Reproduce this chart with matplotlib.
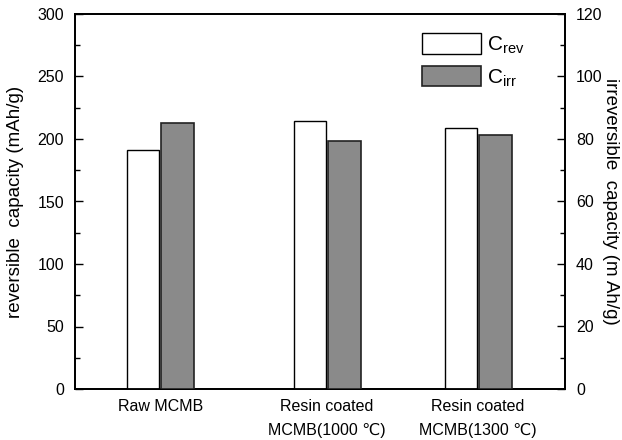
import matplotlib
matplotlib.use("Agg")
import matplotlib.pyplot as plt
from matplotlib.patches import Patch
from matplotlib.ticker import MultipleLocator

plt.rcParams['font.family'] = ['Liberation Sans', 'DejaVu Sans']

categories = ["Raw MCMB", "Resin coated\nMCMB(1000 \u2103)", "Resin coated\nMCMB(1300 \u2103)"]
positions = [0.0, 1.0, 1.905]
c_rev = [191, 214.5, 208.5]      # left axis, mAh/g
c_irr = [85.0, 79.2, 81.3]       # right axis, mAh/g

fig = plt.figure(figsize=(6.22, 4.40), dpi=100)
ax = fig.add_axes([75/622, 51/440, 490/622, 375/440])
ax2 = ax.twinx()

w = 0.195
gap = 0.006
ax.bar([p - w/2 - gap for p in positions], c_rev, width=w, color='white',
       edgecolor='black', linewidth=1.0, zorder=3)
ax2.bar([p + w/2 + gap for p in positions], c_irr, width=w, color='#8a8a8a',
        edgecolor='#222222', linewidth=1.2, zorder=3)

ax.set_xlim(-0.51, 2.425)
ax.set_ylim(0, 300)
ax2.set_ylim(0, 120)

ax.set_xticks(positions)
ax.set_xticklabels(categories, fontsize=11.5, linespacing=1.75)
ax.tick_params(axis='x', length=0, pad=7)

ax.yaxis.set_major_locator(MultipleLocator(50))
ax.yaxis.set_minor_locator(MultipleLocator(25))
ax.tick_params(axis='y', which='major', direction='in', length=6, width=1, labelsize=11.5, pad=8)
ax.tick_params(axis='y', which='minor', direction='in', length=3.5, width=1)

ax2.yaxis.set_major_locator(MultipleLocator(20))
ax2.yaxis.set_minor_locator(MultipleLocator(10))
ax2.tick_params(axis='y', which='major', direction='in', length=6, width=1, labelsize=11.5, pad=8)
ax2.tick_params(axis='y', which='minor', direction='in', length=3.5, width=1)

for a in (ax, ax2):
    for s in a.spines.values():
        s.set_linewidth(1.3)

ax.set_ylabel("reversible  capacity (mAh/g)", fontsize=13.5, va='center', ha='center')
ax.yaxis.set_label_coords(-0.122, 0.5)
ax2.set_ylabel("irreversible  capacity (m Ah/g)", fontsize=13.5, rotation=270,
               va='center', ha='center')
ax2.yaxis.set_label_coords(1.092, 0.5)

handles = [Patch(facecolor='white', edgecolor='black', linewidth=1.0),
           Patch(facecolor='#8a8a8a', edgecolor='#222222', linewidth=1.2)]
labels = [r"C$_{\mathregular{rev}}$", r"C$_{\mathregular{irr}}$"]
ax.legend(handles, labels, loc='upper left', bbox_to_anchor=(0.696, 0.965),
          frameon=False, fontsize=15, handlelength=2.8, handleheight=1.15,
          handletextpad=0.3, labelspacing=0.45, borderpad=0.3, borderaxespad=0)

fig.savefig("out.png", dpi=100)
